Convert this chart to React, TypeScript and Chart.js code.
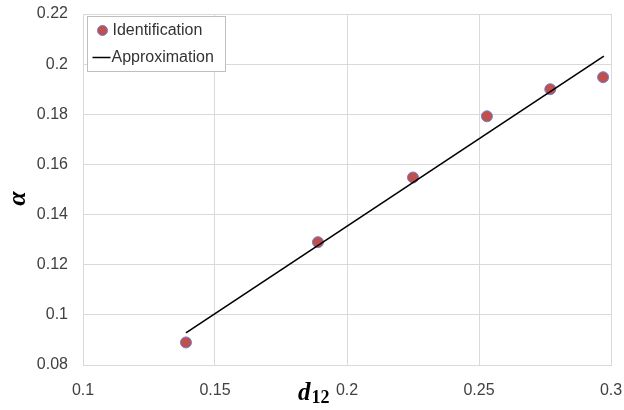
import React, { useEffect, useRef } from "react";
import { Chart, registerables } from "chart.js";

Chart.register(...registerables);

// Data
const identX = [0.139, 0.189, 0.225, 0.253, 0.277, 0.297];
const identY = [0.089, 0.129, 0.1548, 0.1792, 0.19, 0.1948];
const approxX = [0.139, 0.2973];
const approxY = [0.0928, 0.2032];
const xTicks = [0.1, 0.15, 0.2, 0.25, 0.3];
const yTicks = [0.08, 0.1, 0.12, 0.14, 0.16, 0.18, 0.2, 0.22];
const seriesNames = ["Identification", "Approximation"];
const xTitleMain = "d";
const xTitleSub = "12";
const yTitle = "α";

const fmt = (v: number) => String(Number(v.toFixed(3)));

const TICK_FONT = { family: "'Liberation Sans', Arial, sans-serif", size: 16 };
const GRID = "#d9d9d9";
const POINT_FILL = "#c0504d";
const POINT_BORDER = "#7080c8";

const decorPlugin = {
  id: "decor",
  afterDraw(chart: any) {
    const { ctx, chartArea } = chart;
    const ca = chartArea;
    ctx.save();
    // Legend box
    const bx = ca.left + 4.5;
    const by = ca.top + 2.5;
    const bw = 138;
    const bh = 55;
    ctx.fillStyle = "#ffffff";
    ctx.fillRect(bx, by, bw, bh);
    ctx.strokeStyle = "#bfbfbf";
    ctx.lineWidth = 1;
    ctx.strokeRect(bx, by, bw, bh);
    ctx.font = "16px 'Liberation Sans', Arial, sans-serif";
    ctx.textBaseline = "middle";
    ctx.textAlign = "left";
    // entry 1
    ctx.beginPath();
    ctx.arc(bx + 15, by + 14, 5, 0, Math.PI * 2);
    ctx.fillStyle = POINT_FILL;
    ctx.fill();
    ctx.strokeStyle = POINT_BORDER;
    ctx.stroke();
    ctx.fillStyle = "#333333";
    ctx.fillText(seriesNames[0], bx + 25, by + 14);
    // entry 2
    ctx.beginPath();
    ctx.moveTo(bx + 5, by + 41);
    ctx.lineTo(bx + 23, by + 41);
    ctx.strokeStyle = "#000000";
    ctx.lineWidth = 1.5;
    ctx.stroke();
    ctx.fillStyle = "#333333";
    ctx.fillText(seriesNames[1], bx + 24, by + 41);

    // y title (rotated)
    ctx.save();
    ctx.translate(ca.left - 65, (ca.top + ca.bottom) / 2 + 9);
    ctx.rotate(-Math.PI / 2);
    ctx.font = "bold italic 26px 'Liberation Serif', 'DejaVu Serif', serif";
    ctx.fillStyle = "#000000";
    ctx.textAlign = "center";
    ctx.textBaseline = "middle";
    ctx.fillText(yTitle, 0, 0);
    ctx.restore();

    // x title with subscript
    const xs = chart.scales.x;
    const tx = xs.getPixelForValue(0.2) - 49;
    const ty = ca.bottom + 35;
    ctx.font = "bold italic 25px 'Liberation Serif', 'DejaVu Serif', serif";
    ctx.fillStyle = "#000000";
    ctx.textAlign = "left";
    ctx.textBaseline = "alphabetic";
    ctx.fillText(xTitleMain, tx, ty);
    const dw = ctx.measureText(xTitleMain).width;
    ctx.font = "bold 18px 'Liberation Serif', 'DejaVu Serif', serif";
    ctx.fillText(xTitleSub, tx + dw + 1, ty + 3);
    ctx.restore();
  },
};

export default function App() {
  const ref = useRef<HTMLCanvasElement | null>(null);
  useEffect(() => {
    if (!ref.current) return;
    const chart = new Chart(ref.current, {
      type: "scatter",
      data: {
        datasets: [
          {
            label: seriesNames[1],
            data: approxX.map((x, i) => ({ x, y: approxY[i] })),
            showLine: true,
            borderColor: "#000000",
            borderWidth: 1.6,
            pointRadius: 0,
            fill: false,
          },
          {
            label: seriesNames[0],
            data: identX.map((x, i) => ({ x, y: identY[i] })),
            backgroundColor: POINT_FILL,
            borderColor: POINT_BORDER,
            borderWidth: 1,
            pointRadius: 5.5,
            showLine: false,
          },
        ],
      },
      options: {
        animation: false,
        responsive: false,
        devicePixelRatio: 1,
        layout: { padding: { top: 14, right: 13, left: 0, bottom: 0 } },
        plugins: { legend: { display: false }, tooltip: { enabled: false } },
        scales: {
          x: {
            type: "linear",
            min: 0.1,
            max: 0.3,
            afterBuildTicks: (s: any) => {
              s.ticks = xTicks.map((v) => ({ value: v }));
            },
            afterFit: (s: any) => {
              s.height = 45;
              s.paddingLeft = 0;
              s.paddingRight = 0;
            },
            ticks: {
              callback: (v: any) => fmt(Number(v)),
              font: TICK_FONT,
              color: "#404040",
              padding: 16,
              maxRotation: 0,
            },
            grid: { color: GRID, drawTicks: false, lineWidth: 1 },
            border: { color: GRID },
          },
          y: {
            type: "linear",
            min: 0.08,
            max: 0.22,
            afterBuildTicks: (s: any) => {
              s.ticks = yTicks.map((v) => ({ value: v }));
            },
            afterFit: (s: any) => {
              s.width = 83;
              s.paddingTop = 0;
              s.paddingBottom = 0;
            },
            ticks: {
              callback: (v: any) => fmt(Number(v)),
              font: TICK_FONT,
              color: "#404040",
              padding: 15,
            },
            grid: { color: GRID, drawTicks: false, lineWidth: 1 },
            border: { color: GRID },
          },
        },
      },
      plugins: [decorPlugin],
    });
    return () => chart.destroy();
  }, []);
  return (
    <div style={{ position: "absolute", left: 0, top: 0, width: 624, height: 410, background: "#fff" }}>
      <canvas ref={ref} width={624} height={410} />
    </div>
  );
}
